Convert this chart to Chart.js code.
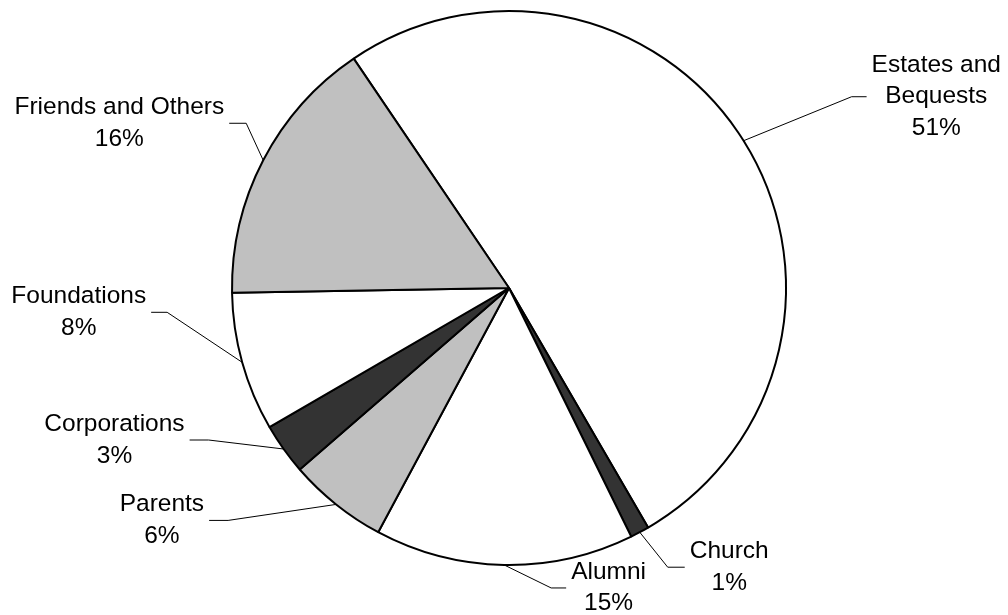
<!DOCTYPE html>
<html>
<head>
<meta charset="utf-8">
<script src="https://cdn.jsdelivr.net/npm/chart.js@4"></script>
<style>
  html, body { margin: 0; padding: 0; background: #fff; }
  #wrap { width: 1008px; height: 615px; position: relative; }
</style>
</head>
<body>
<div id="wrap"><canvas id="giftChart"></canvas></div>
<script>
// gift sources, clockwise from the top-right slice
var categories = [['Estates and', 'Bequests'], ['Church'], ['Alumni'], ['Parents'], ['Corporations'], ['Foundations'], ['Friends and Others']];
var shares = [51.1, 1.1, 15.1, 5.8, 3.0, 8.1, 15.8];
var sliceColors = ['#ffffff', '#333333', '#ffffff', '#c0c0c0', '#333333', '#ffffff', '#c0c0c0'];

// leader line elbow offset from the slice edge, and the length of the flat tail
var elbows = [[108, -44, 15], [28, 35, 17], [47, 23, 15], [-108, 16, -19], [-75, -9, -19], [-75, -50, -16], [-17, -37, -17]];

var leaderLabels = {
  id: 'leaderLabels',
  afterDraw: function(chart) {
    var c = chart.ctx;
    var arcs = chart.getDatasetMeta(0).data;
    var total = shares.reduce(function(a, b) { return a + b; }, 0);
    c.save();
    c.font = '24.5px "Liberation Sans", Arial, sans-serif';
    c.textBaseline = 'middle';
    c.textAlign = 'center';
    arcs.forEach(function(arc, i) {
      var mid = (arc.startAngle + arc.endAngle) / 2;
      var ax = arc.x + Math.cos(mid) * arc.outerRadius;
      var ay = arc.y + Math.sin(mid) * arc.outerRadius;
      var ex = ax + elbows[i][0], ey = ay + elbows[i][1];
      var tx = ex + elbows[i][2];
      c.strokeStyle = '#000';
      c.lineWidth = 1;
      c.beginPath();
      c.moveTo(ax, ay);
      c.lineTo(ex, ey);
      c.lineTo(tx, ey);
      c.stroke();

      var lines = categories[i].concat([Math.round(shares[i] / total * 100) + '%']);
      var w = Math.max.apply(null, lines.map(function(l) { return c.measureText(l).width; }));
      var right = elbows[i][2] > 0;
      var cx = right ? tx + 5 + w / 2 : tx - 5 - w / 2;
      var lh = 31.5;
      var y0 = ey - (lines.length - 1) * lh / 2;
      c.fillStyle = '#000';
      lines.forEach(function(l, k) { c.fillText(l, cx, y0 + k * lh); });
    });
    c.restore();
  }
};

new Chart(document.getElementById('giftChart'), {
  type: 'pie',
  data: {
    labels: categories.map(function(l) { return l.join(' '); }),
    datasets: [{
      data: shares,
      backgroundColor: sliceColors,
      borderColor: '#000',
      borderWidth: 2
    }]
  },
  options: {
    responsive: true,
    maintainAspectRatio: false,
    animation: false,
    rotation: -34.1,
    layout: { padding: { top: 10, bottom: 49, left: 10, right: 0 } },
    plugins: { legend: { display: false }, tooltip: { enabled: false } }
  },
  plugins: [leaderLabels]
});
</script>
</body>
</html>
